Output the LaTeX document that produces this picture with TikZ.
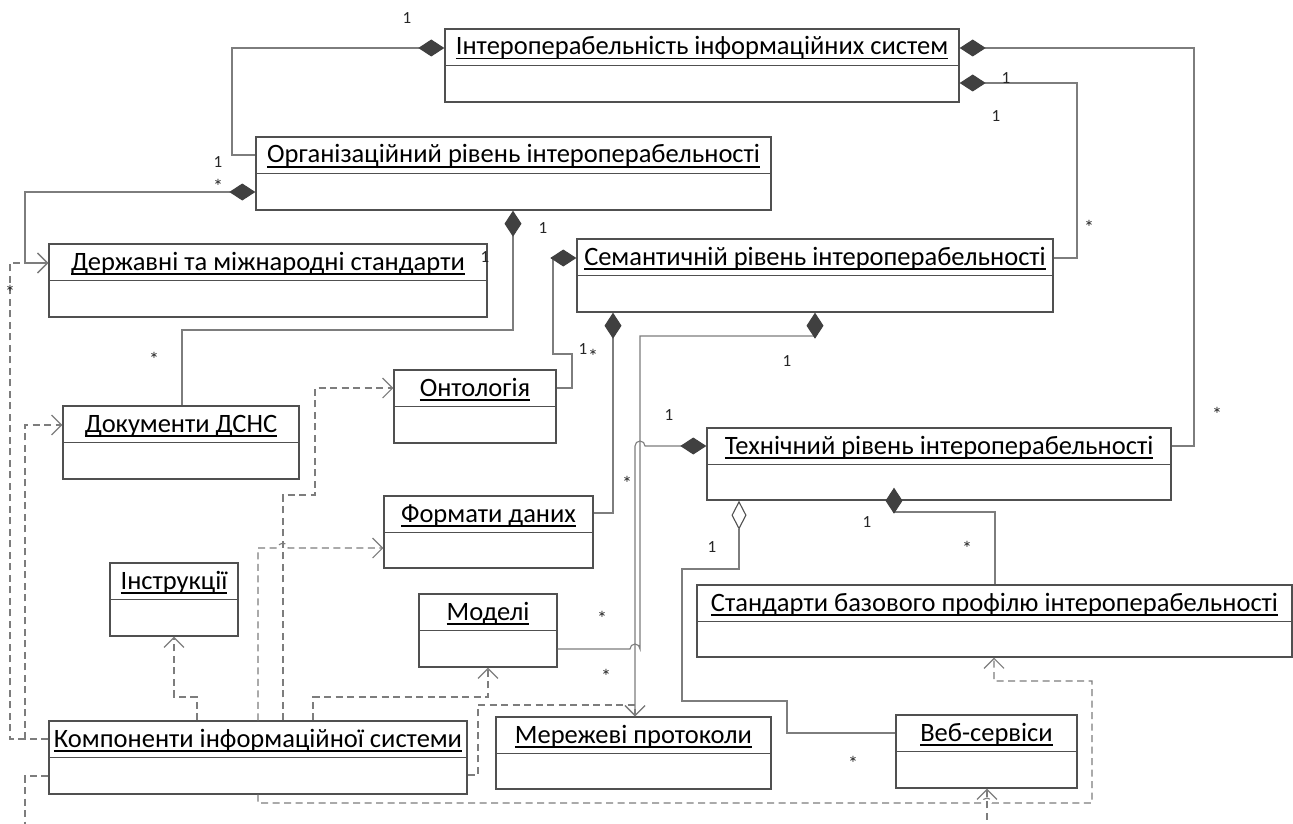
\documentclass[tikz,border=0pt]{standalone}
\usepackage{fontspec}
\setmainfont{Carlito}
\usetikzlibrary{arrows.meta,fit,calc}
\definecolor{boxcol}{RGB}{80,80,80}
\definecolor{linecol}{RGB}{125,125,125}
\definecolor{diacol}{RGB}{64,64,64}
\newcommand\ulbox[1]{\setbox0\hbox{#1}\rlap{\rule[-4.5pt]{\wd0}{1.3pt}}\box0}
\tikzset{
  classbox/.style={draw=boxcol, line width=1.4pt, inner sep=0pt},
  classtitle/.style={anchor=base, inner sep=0pt, font=\fontsize{26.5}{30}\selectfont},
  mult/.style={inner sep=0pt, font=\fontsize{17}{20}\selectfont, text=black!85},
  multstar/.style={inner sep=0pt, font=\fontsize{20}{22}\selectfont, text=black!85},
  conn/.style={draw=linecol, line width=1.1pt},
  compo/.style={conn, {Diamond[length=26pt,width=17pt,color=diacol]}-},
  componav/.style={conn, {Diamond[length=26pt,width=17pt,color=diacol]}-{Straight Barb[length=10pt,width=20pt,color=linecol]}},
  aggr/.style={conn, {Diamond[open,length=29pt,width=15pt,fill=white,color=boxcol]}-},
  depend/.style={conn, dash pattern=on 7pt off 4.5pt, -{Straight Barb[length=10pt,width=20pt]}},
}
\newcommand\umlclass[6]{%
  \node[classbox, fit={(#2,#3) (#4,#5)}] (#1) {};
  \draw[classbox] (#2,#3+36.5) -- (#4,#3+36.5);
  \node[classtitle] (#1-t) at ({(#2+#4)/2},#3+26) {\ulbox{#6}};
}
\begin{document}
\begin{tikzpicture}[x=1pt,y=-1pt]
\useasboundingbox (0,0) rectangle (1293,824);
\fill[white] (0,0) rectangle (1293,824);
\clip (0,0) rectangle (1293,824);

\umlclass{interop}{445}{29}{959}{102}{Інтероперабельність інформаційних систем}
\umlclass{org}{256}{137}{771}{210}{Організаційний рівень інтероперабельності}
\umlclass{dzh}{49}{244}{487}{317}{Державні та міжнародні стандарти}
\umlclass{doc}{63}{406}{299}{479}{Документи ДСНС}
\umlclass{onto}{394}{370}{556}{443}{Онтологія}
\umlclass{form}{384}{496}{593}{568}{Формати даних}
\umlclass{sem}{577}{239}{1053}{312}{Семантичній рівень інтероперабельності}
\umlclass{tech}{707}{428}{1171}{500}{Технічний рівень інтероперабельності}
\umlclass{instr}{110}{563}{238}{636}{Інструкції}
\umlclass{moda}{419}{594}{557}{667}{Моделі}
\umlclass{std}{697}{585}{1292}{657}{Стандарти базового профілю інтероперабельності}
\umlclass{kompon}{49}{721}{467}{794}{Компоненти інформаційної системи}
\umlclass{merezh}{496}{717}{771}{789}{Мережеві протоколи}
\umlclass{web}{896}{715}{1077}{788}{Веб-сервіси}

% composition / aggregation connectors
\draw[compo] (interop.west |- 0,48) -- (232,48) |- (org.west |- 0,155);
\draw[componav] (org.west |- 0,192) -- (25,192) |- (dzh.west |- 0,263);
\draw[compo] (org.south -| 513,0) -- (513,330) -| (doc.north -| 182,0);
\draw[compo] (interop.east |- 0,83) -- (1077,83) |- (sem.east |- 0,258);
\draw[compo] (interop.east |- 0,48) -- (1194,48) |- (tech.east |- 0,446);
\draw[compo] (sem.west |- 0,258) -- (553,258) -- (553,354) -- (572,354) |- (onto.east |- 0,388);
\draw[compo] (sem.south -| 613,0) -- (613,513) -- (form.east |- 0,513);
\draw[compo] (sem.south -| 815,0) -- (815,336) -- (640,336) -- (640,649)
   arc[start angle=0,end angle=180,radius=5pt] -- (moda.east |- 0,649);
\draw[componav] (tech.west |- 0,446) -- (645,446)
   arc[start angle=0,end angle=180,radius=5pt] -- (merezh.north -| 635,0);
\draw[aggr] (tech.south -| 739,0) -- (739,569) -- (682,569) -- (682,701) -- (787,701) |- (web.west |- 0,733);
\draw[compo] ($(tech.south -| 894,0)+(0,-13)$) -- (894,512) -- (995,512) -- (std.north -| 995,0);

% dependencies
\draw[depend] (kompon.west |- 0,739) -- (10,739) |- (dzh.west |- 0,263);
\draw[depend] (kompon.west |- 0,739) -- (25,739) |- (doc.west |- 0,425);
\draw[depend] (kompon.north -| 197,0) -- (197,697) -| (instr.south -| 174,0);
\draw[depend] (kompon.north -| 283,0) -- (283,495) -- (315,495) |- (onto.west |- 0,388);
\draw[depend] (kompon.north -| 258,0) -- (258,548) -- (278,548)
   arc[start angle=180,end angle=0,radius=5pt] -- (form.west |- 0,548);
\draw[depend] (kompon.north -| 313,0) -- (313,697) -| (moda.south -| 488,0);
\draw[depend] (kompon.east |- 0,775) -- (478,775) -- (478,705) -| (merezh.north -| 635,0);
\draw[depend] (kompon.south -| 258,0) -- (258,803) -- (982,803)
   arc[start angle=180,end angle=0,radius=5pt] -- (1092,803) |- (994,681) -- (std.south -| 994,0);
\draw[depend] (kompon.west |- 0,776) -- (25,776) -- (25,840) -| (web.south -| 987,0);

% multiplicities
\node[mult] (m1) at (407,18) {1};
\node[mult] (m2) at (218,162) {1};
\node[multstar] (m3) at (218,186) {*};
\node[multstar] (m4) at (10,292) {*};
\node[mult] (m5) at (543,228) {1};
\node[mult] (m6) at (485,257) {1};
\node[multstar] (m7) at (154,359) {*};
\node[mult] (m8) at (1006,78) {1};
\node[mult] (m9) at (996,116) {1};
\node[multstar] (m10) at (1089,227) {*};
\node[multstar] (m11) at (1217,414) {*};
\node[mult] (m12) at (583,349) {1};
\node[multstar] (m13) at (593,356) {*};
\node[multstar] (m14) at (627,483) {*};
\node[mult] (m15) at (787,361) {1};
\node[mult] (m16) at (669,415) {1};
\node[multstar] (m17) at (602,618) {*};
\node[multstar] (m18) at (606,676) {*};
\node[mult] (m19) at (712,547) {1};
\node[mult] (m20) at (867,522) {1};
\node[multstar] (m21) at (967,548) {*};
\node[multstar] (m22) at (853,763) {*};
\end{tikzpicture}
\end{document}
